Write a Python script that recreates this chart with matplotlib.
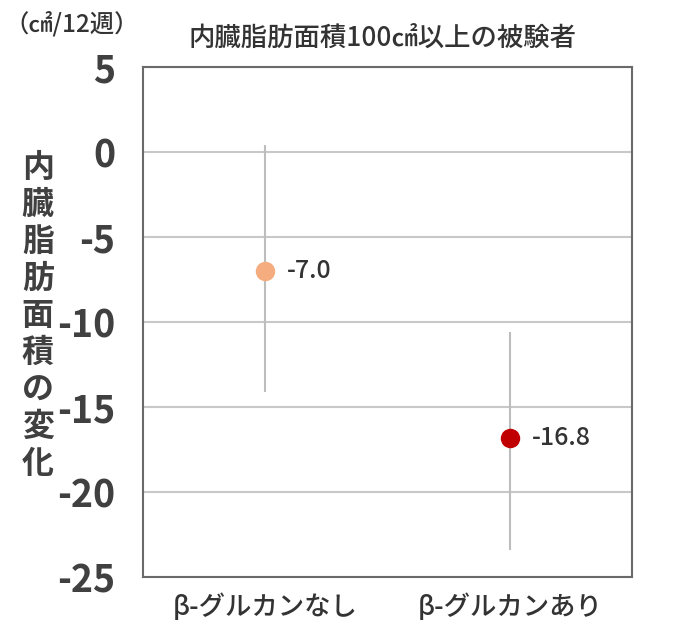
import matplotlib.pyplot as plt

plt.rcParams['font.family'] = ['Noto Sans CJK JP', 'DejaVu Sans']

# data
groups = ["β-グルカンなし", "β-グルカンあり"]
means = [-7.0, -16.8]
err_low = [7.1, 6.6]
err_high = [7.4, 6.2]
colors = ["#F5AC7E", "#C00000"]
yticks = [5, 0, -5, -10, -15, -20, -25]

fig = plt.figure(figsize=(7, 6.39), dpi=100)
ax = fig.add_axes([0.204, 0.097, 0.699, 0.798])

xs = [0.5, 1.5]
for x, m, lo, hi, c in zip(xs, means, err_low, err_high, colors):
    ax.errorbar(x, m, yerr=[[lo], [hi]], fmt="none", ecolor="#BDBDBD",
                elinewidth=1.5, capsize=0, zorder=2)
    ax.plot(x, m, "o", color=c, markersize=13, zorder=3)
    ax.text(x + 0.09, m, f"{m:.1f}", va="center", ha="left",
            fontsize=18, fontweight="medium", color="#333333")

ax.set_xlim(0, 2)
ax.set_ylim(-25, 5)
ax.set_yticks(yticks)
ax.set_yticklabels([str(t) for t in yticks], fontsize=27, color="#404040",
                   fontweight="bold")
ax.set_xticks(xs)
ax.set_xticklabels(groups, fontsize=19, fontweight="medium", color="#333333")
ax.tick_params(axis="y", length=0, pad=20)
ax.tick_params(axis="x", length=0, pad=12)
ax.grid(axis="y", color="#C8C8C8", linewidth=1.5)
ax.set_axisbelow(True)
for s in ax.spines.values():
    s.set_color("#6A6A6A")
    s.set_linewidth(1.5)

# vertical stacked y label
fig.text(0.054, 0.505, "\n".join("内臓脂肪面積の変化"), ha="center",
         va="center", fontsize=23, fontweight="bold", color="#404040",
         linespacing=1.2)

fig.text(0.546, 0.94, "内臓脂肪面積100㎠以上の被験者", ha="center",
         va="center", fontsize=19, fontweight="medium", color="#333333")
fig.text(0.103, 0.961, "（㎠/12週）", ha="center", va="center",
         fontsize=17.5, fontweight="medium", color="#333333")

fig.savefig("out.png", dpi=100)
